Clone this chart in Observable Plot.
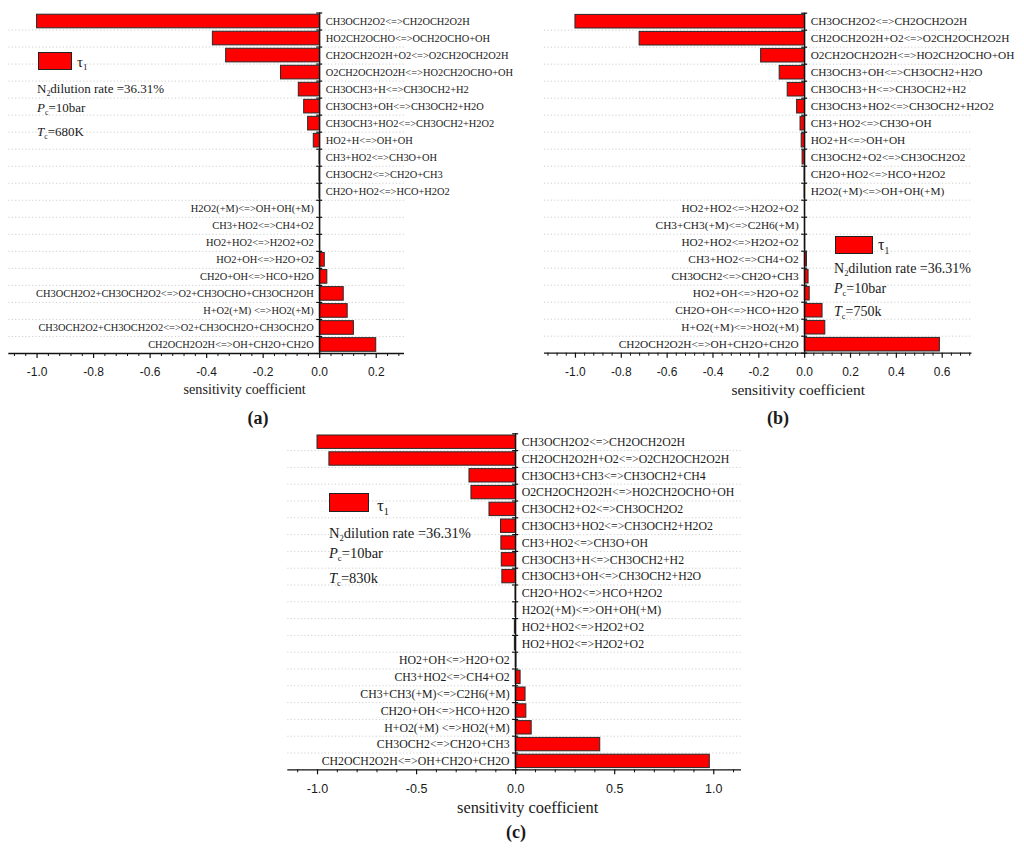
<!DOCTYPE html>
<html>
<head>
<meta charset="utf-8">
<script src="https://cdn.jsdelivr.net/npm/d3@7"></script>
<script src="https://cdn.jsdelivr.net/npm/@observablehq/plot@0.6"></script>
<style>
  html, body { margin: 0; padding: 0; background: #fff; }
  #root { position: relative; width: 1024px; height: 849px; overflow: hidden; color: #1a1a1a; }
  .panel { position: absolute; }
  .letter { position: absolute; font-family: "Liberation Serif", serif; font-weight: bold; font-size: 18px; transform: translate(-50%, -50%); }
  .lbox { position: absolute; background: #ff0000; border: 1px solid #222; box-sizing: border-box; }
  .ltxt { position: absolute; font-family: "Liberation Serif", serif; white-space: nowrap; line-height: 1; transform: translateY(-50%); }
  .ltxt sub { font-size: 0.6em; vertical-align: -0.4em; line-height: 0; }
</style>
</head>
<body>
<div id="root"></div>
<script>
// ---------- data ----------
const reactionsA = [
  "CH3OCH2O2<=>CH2OCH2O2H",
  "HO2CH2OCHO<=>OCH2OCHO+OH",
  "CH2OCH2O2H+O2<=>O2CH2OCH2O2H",
  "O2CH2OCH2O2H<=>HO2CH2OCHO+OH",
  "CH3OCH3+H<=>CH3OCH2+H2",
  "CH3OCH3+OH<=>CH3OCH2+H2O",
  "CH3OCH3+HO2<=>CH3OCH2+H2O2",
  "HO2+H<=>OH+OH",
  "CH3+HO2<=>CH3O+OH",
  "CH3OCH2<=>CH2O+CH3",
  "CH2O+HO2<=>HCO+H2O2",
  "H2O2(+M)<=>OH+OH(+M)",
  "CH3+HO2<=>CH4+O2",
  "HO2+HO2<=>H2O2+O2",
  "HO2+OH<=>H2O+O2",
  "CH2O+OH<=>HCO+H2O",
  "CH3OCH2O2+CH3OCH2O2<=>O2+CH3OCHO+CH3OCH2OH",
  "H+O2(+M) <=>HO2(+M)",
  "CH3OCH2O2+CH3OCH2O2<=>O2+CH3OCH2O+CH3OCH2O",
  "CH2OCH2O2H<=>OH+CH2O+CH2O"
];
const valuesA = [-1.0, -0.378, -0.331, -0.137, -0.074, -0.055, -0.041, -0.021,
  -0.001, -0.001, -0.001, 0.001, 0.001, 0.001, 0.018, 0.027, 0.085, 0.099, 0.121, 0.2];

const reactionsB = [
  "CH3OCH2O2<=>CH2OCH2O2H",
  "CH2OCH2O2H+O2<=>O2CH2OCH2O2H",
  "O2CH2OCH2O2H<=>HO2CH2OCHO+OH",
  "CH3OCH3+OH<=>CH3OCH2+H2O",
  "CH3OCH3+H<=>CH3OCH2+H2",
  "CH3OCH3+HO2<=>CH3OCH2+H2O2",
  "CH3+HO2<=>CH3O+OH",
  "HO2+H<=>OH+OH",
  "CH3OCH2+O2<=>CH3OCH2O2",
  "CH2O+HO2<=>HCO+H2O2",
  "H2O2(+M)<=>OH+OH(+M)",
  "HO2+HO2<=>H2O2+O2",
  "CH3+CH3(+M)<=>C2H6(+M)",
  "HO2+HO2<=>H2O2+O2",
  "CH3+HO2<=>CH4+O2",
  "CH3OCH2<=>CH2O+CH3",
  "HO2+OH<=>H2O+O2",
  "CH2O+OH<=>HCO+H2O",
  "H+O2(+M)<=>HO2(+M)",
  "CH2OCH2O2H<=>OH+CH2O+CH2O"
];
const valuesB = [-1.0, -0.72, -0.19, -0.109, -0.074, -0.033, -0.018, -0.013, -0.009,
  -0.001, -0.001, 0.001, 0.001, 0.002, 0.01, 0.017, 0.022, 0.078, 0.09, 0.59];

const reactionsC = [
  "CH3OCH2O2<=>CH2OCH2O2H",
  "CH2OCH2O2H+O2<=>O2CH2OCH2O2H",
  "CH3OCH3+CH3<=>CH3OCH2+CH4",
  "O2CH2OCH2O2H<=>HO2CH2OCHO+OH",
  "CH3OCH2+O2<=>CH3OCH2O2",
  "CH3OCH3+HO2<=>CH3OCH2+H2O2",
  "CH3+HO2<=>CH3O+OH",
  "CH3OCH3+H<=>CH3OCH2+H2",
  "CH3OCH3+OH<=>CH3OCH2+H2O",
  "CH2O+HO2<=>HCO+H2O2",
  "H2O2(+M)<=>OH+OH(+M)",
  "HO2+HO2<=>H2O2+O2",
  "HO2+HO2<=>H2O2+O2",
  "HO2+OH<=>H2O+O2",
  "CH3+HO2<=>CH4+O2",
  "CH3+CH3(+M)<=>C2H6(+M)",
  "CH2O+OH<=>HCO+H2O",
  "H+O2(+M) <=>HO2(+M)",
  "CH3OCH2<=>CH2O+CH3",
  "CH2OCH2O2H<=>OH+CH2O+CH2O"
];
const valuesC = [-1.0, -0.94, -0.233, -0.223, -0.132, -0.074, -0.072, -0.07, -0.067,
  -0.001, -0.001, -0.004, -0.004, 0.004, 0.025, 0.05, 0.054, 0.081, 0.427, 0.98];

const domainA = [-1.1, 0.3];
const domainB = [-1.135, 0.73];
const domainC = [-1.15, 1.14];
const ticksA = [-1.0, -0.8, -0.6, -0.4, -0.2, 0.0, 0.2];
const ticksB = [-1.0, -0.8, -0.6, -0.4, -0.2, 0.0, 0.2, 0.4, 0.6];
const ticksC = [-1.0, -0.5, 0.0, 0.5, 1.0];
const minorStepA = 0.04, minorStepB = 0.04, minorStepC = 0.1;

const axisTitle = "sensitivity coefficient";
const seriesName = "τ";
const legendLines = {
  a: ["N<sub>2</sub>dilution rate =36.31%", "<i>P</i><sub>c</sub>=10bar", "<i>T</i><sub>c</sub>=680K"],
  b: ["N<sub>2</sub>dilution rate =36.31%", "<i>P</i><sub>c</sub>=10bar", "<i>T</i><sub>c</sub>=750k"],
  c: ["N<sub>2</sub>dilution rate =36.31%", "<i>P</i><sub>c</sub>=10bar", "<i>T</i><sub>c</sub>=830k"]
};

// ---------- layout ----------
const panels = [
  {id: "a", reactions: reactionsA, values: valuesA, domain: domainA, ticks: ticksA, minorStep: minorStepA,
   left: 0, top: 0, width: 512, height: 400, mL: 8.3, mR: 108, mT: 12.5, mB: 47,
   labelSize: 10.4, tickSize: 12, titleSize: 14.2, titleDx: 38, titleDy: 36,
   letter: [258, 418],
   legend: {box: [38, 52, 34, 18], tau: [77, 62, 15], lines: [37, [88, 107, 131], 13]}},
  {id: "b", reactions: reactionsB, values: valuesB, domain: domainB, ticks: ticksB, minorStep: minorStepB,
   left: 512, top: 0, width: 512, height: 400, mL: 32, mR: 52.5, mT: 12.7, mB: 47.3,
   labelSize: 11.3, tickSize: 12, titleSize: 15.5, titleDx: 40, titleDy: 37.3,
   letter: [778, 418],
   legend: {box: [835, 236, 38, 18], tau: [878, 245, 16], lines: [834, [269, 289, 312], 14]}},
  {id: "c", reactions: reactionsC, values: valuesC, domain: domainC, ticks: ticksC, minorStep: minorStepC,
   left: 256, top: 420, width: 512, height: 429, mL: 31.3, mR: 27, mT: 13.3, mB: 79.7,
   labelSize: 11.8, tickSize: 12.5, titleSize: 16.4, titleDx: 13, titleDy: 37.7,
   letter: [516, 832],
   legend: {box: [329, 493, 40, 19], tau: [377, 505, 17], lines: [329, [533, 553, 578], 14.5]}}
];

const root = document.getElementById("root");
const fmt = d => d.toFixed(1);
const SERIF = "'Liberation Serif', 'Times New Roman', serif";

for (const p of panels) {
  const n = p.reactions.length;
  const data = p.reactions.map((name, i) => ({i, name, v: p.values[i]}));
  const neg = data.filter(d => d.v < 0);
  const pos = data.filter(d => d.v >= 0);
  const k0 = Math.ceil(p.domain[0] / p.minorStep - 1e-9), k1 = Math.floor(p.domain[1] / p.minorStep + 1e-9);
  const minor = d3.range(k0, k1 + 1).map(k => +(k * p.minorStep).toFixed(4))
    .filter(v => !p.ticks.some(t => Math.abs(t - v) < 1e-6));

  const chart = Plot.plot({
    width: p.width, height: p.height,
    marginLeft: p.mL, marginRight: p.mR, marginTop: p.mT, marginBottom: p.mB,
    style: {overflow: "visible", background: "transparent", fontFamily: "'Liberation Sans', Arial, sans-serif", fontSize: p.tickSize + "px", color: "#1a1a1a"},
    x: {domain: p.domain, label: null},
    y: {domain: [n, 0], axis: null, label: null},
    marks: [
      Plot.ruleY(d3.range(1, n), {stroke: "#c4c4c4", strokeWidth: 0.8, strokeDasharray: "1.2,2.2"}),
      Plot.rectX(data, {x1: 0, x2: "v", y1: d => d.i, y2: d => d.i + 1, insetTop: 1.7, insetBottom: 1.7,
        fill: "#ff0000", stroke: "#2a2a2a", strokeWidth: 1}),
      Plot.ruleX([0], {stroke: "#111", strokeWidth: 1.3}),
      Plot.ruleY(d3.range(0, n + 1), {x1: 0, x2: 0, insetLeft: -3, insetRight: -3, stroke: "#111", strokeWidth: 1.2}),
      Plot.ruleY([n], {stroke: "#111", strokeWidth: 1.3}),
      Plot.axisX(p.ticks, {tickSize: 5, tickPadding: 9, tickFormat: fmt, label: null, stroke: "#111", strokeWidth: 1.2, fontSize: p.tickSize}),
      Plot.axisX(minor, {tickSize: 3, tickFormat: () => "", label: null, stroke: "#111", strokeWidth: 1}),
      Plot.text(neg, {x: 0, y: d => d.i + 0.5, text: "name", textAnchor: "start", dx: 6,
        fontFamily: SERIF, fontSize: p.labelSize, fill: "#1a1a1a"}),
      Plot.text(pos, {x: 0, y: d => d.i + 0.5, text: "name", textAnchor: "end", dx: -6,
        fontFamily: SERIF, fontSize: p.labelSize, fill: "#1a1a1a"}),
      Plot.text([axisTitle], {text: d => d, frameAnchor: "bottom", lineAnchor: "middle", dx: p.titleDx, dy: p.titleDy,
        fontFamily: SERIF, fontSize: p.titleSize, fill: "#1a1a1a"})
    ]
  });

  // make sure every non-axis text mark is drawn in the serif face
  d3.select(chart).selectAll("g[aria-label='text'], g[aria-label='text'] text")
    .style("font-family", SERIF);

  const holder = document.createElement("div");
  holder.className = "panel";
  holder.style.left = p.left + "px";
  holder.style.top = p.top + "px";
  holder.style.width = p.width + "px";
  holder.style.height = p.height + "px";
  holder.appendChild(chart);
  root.appendChild(holder);

  // legend
  const L = p.legend;
  const box = document.createElement("div");
  box.className = "lbox";
  Object.assign(box.style, {left: L.box[0] + "px", top: L.box[1] + "px", width: L.box[2] + "px", height: L.box[3] + "px"});
  root.appendChild(box);

  const tau = document.createElement("div");
  tau.className = "ltxt";
  tau.innerHTML = seriesName + "<sub>1</sub>";
  Object.assign(tau.style, {left: L.tau[0] + "px", top: L.tau[1] + "px", fontSize: L.tau[2] + "px"});
  root.appendChild(tau);

  legendLines[p.id].forEach((html, j) => {
    const t = document.createElement("div");
    t.className = "ltxt";
    t.innerHTML = html;
    Object.assign(t.style, {left: L.lines[0] + "px", top: L.lines[1][j] + "px", fontSize: L.lines[2] + "px"});
    root.appendChild(t);
  });

  const letter = document.createElement("div");
  letter.className = "letter";
  letter.textContent = "(" + p.id + ")";
  letter.style.left = p.letter[0] + "px";
  letter.style.top = p.letter[1] + "px";
  root.appendChild(letter);
}
</script>
</body>
</html>
